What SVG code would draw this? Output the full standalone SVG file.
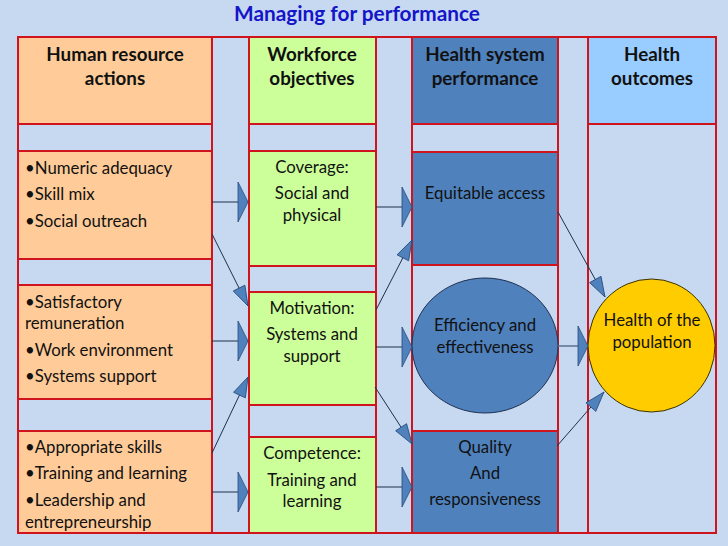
<svg xmlns="http://www.w3.org/2000/svg" width="728" height="546" viewBox="0 0 728 546">
<style>
.col{fill:none;stroke:#D0141E;stroke-width:2}
.box{stroke:#D0141E;stroke-width:2}
.or{fill:#FFCC99}.gr{fill:#CCFF99}.bl{fill:#4F81BD}.lb{fill:#99CCFF}
.t{font-family:Lato,"Liberation Sans",sans-serif;font-size:16.8px;fill:#111}
.h{font-family:Lato,"Liberation Sans",sans-serif;font-size:18.8px;font-weight:bold;fill:#111;text-anchor:middle}
.c{text-anchor:middle}
.ln{stroke:#1E2F4A;stroke-width:1;fill:none}
</style>
<defs>
<marker id="big" viewBox="-11 -21 12 42" markerWidth="12" markerHeight="42" refX="0" refY="0" markerUnits="userSpaceOnUse" orient="auto">
<path d="M0,0 L-10,-20 L-10,20 Z" fill="#4F81BD" stroke="#2A4A78" stroke-width="0.8"/>
</marker>
<marker id="sm" viewBox="-21 -8 22 16" markerWidth="22" markerHeight="16" refX="0" refY="0" markerUnits="userSpaceOnUse" orient="auto">
<path d="M0,0 L-20,-6.5 L-20,6.5 Z" fill="#4F81BD" stroke="#2A4A78" stroke-width="0.8"/>
</marker>
</defs>
<rect x="0" y="0" width="728" height="546" fill="#C6D9F1"/>
<text x="357" y="21" font-family="Lato,'Liberation Sans',sans-serif" font-size="20.8" font-weight="bold" fill="#1414C8" text-anchor="middle">Managing for performance</text>

<g id="columns">
<rect class="col" x="18" y="37" width="194" height="496"/>
<rect class="col" x="212" y="37" width="37" height="496"/>
<rect class="col" x="249" y="37" width="127" height="496"/>
<rect class="col" x="376" y="37" width="36" height="496"/>
<rect class="col" x="412" y="37" width="146" height="496"/>
<rect class="col" x="558" y="37" width="30" height="496"/>
<rect class="col" x="588" y="37" width="128" height="496"/>
</g>

<g id="hdr-hr"><rect class="box or" x="18" y="37" width="194" height="87"/>
<text class="h" x="115" y="61">Human resource</text><text class="h" x="115" y="85">actions</text></g>
<g id="hdr-wf"><rect class="box gr" x="249" y="37" width="127" height="87"/>
<text class="h" x="312" y="61">Workforce</text><text class="h" x="312" y="85">objectives</text></g>
<g id="hdr-hs"><rect class="box bl" x="412" y="37" width="146" height="87"/>
<text class="h" x="485" y="61">Health system</text><text class="h" x="485" y="85">performance</text></g>
<g id="hdr-ho"><rect class="box lb" x="588" y="37" width="128" height="87"/>
<text class="h" x="652" y="61">Health</text><text class="h" x="652" y="85">outcomes</text></g>

<g id="hr1"><rect class="box or" x="18" y="151" width="194" height="108"/>
<text class="t" x="25" y="174">•Numeric adequacy</text>
<text class="t" x="25" y="200">•Skill mix</text>
<text class="t" x="25" y="227">•Social outreach</text></g>
<g id="hr2"><rect class="box or" x="18" y="285" width="194" height="114"/>
<text class="t" x="25" y="308">•Satisfactory</text>
<text class="t" x="25" y="329">remuneration</text>
<text class="t" x="25" y="356">•Work environment</text>
<text class="t" x="25" y="382">•Systems support</text></g>
<g id="hr3"><rect class="box or" x="18" y="431" width="194" height="102"/>
<text class="t" x="25" y="453">•Appropriate skills</text>
<text class="t" x="25" y="479">•Training and learning</text>
<text class="t" x="25" y="506">•Leadership and</text>
<text class="t" x="25" y="528">entrepreneurship</text></g>

<g id="wf1"><rect class="box gr" x="249" y="151" width="127" height="115"/>
<text class="t c" x="312" y="173">Coverage:</text>
<text class="t c" x="312" y="199">Social and</text>
<text class="t c" x="312" y="221">physical</text></g>
<g id="wf2"><rect class="box gr" x="249" y="292" width="127" height="113"/>
<text class="t c" x="312" y="314">Motivation:</text>
<text class="t c" x="312" y="340">Systems and</text>
<text class="t c" x="312" y="362">support</text></g>
<g id="wf3"><rect class="box gr" x="249" y="437" width="127" height="96"/>
<text class="t c" x="312" y="459">Competence:</text>
<text class="t c" x="312" y="486">Training and</text>
<text class="t c" x="312" y="507">learning</text></g>

<g id="hs1"><rect class="box bl" x="412" y="152" width="146" height="113"/>
<text class="t c" x="485" y="199">Equitable access</text></g>
<g id="hs2"><ellipse cx="485" cy="345.5" rx="73" ry="67.5" fill="#4F81BD" stroke="#1F3050" stroke-width="1"/>
<text class="t c" x="485" y="331">Efficiency and</text>
<text class="t c" x="485" y="353">effectiveness</text></g>
<g id="hs3"><rect class="box bl" x="412" y="431" width="146" height="102"/>
<text class="t c" x="485" y="453">Quality</text>
<text class="t c" x="485" y="479">And</text>
<text class="t c" x="485" y="505">responsiveness</text></g>

<g id="ho1"><ellipse cx="651.5" cy="345.5" rx="63.5" ry="66.5" fill="#FFCC00" stroke="#3A3000" stroke-width="1"/>
<text class="t c" x="652" y="326">Health of the</text>
<text class="t c" x="652" y="348">population</text></g>

<g id="connectors">
<line class="ln" x1="212" y1="202" x2="248" y2="202" marker-end="url(#big)"/>
<line class="ln" x1="212" y1="341" x2="248" y2="341" marker-end="url(#big)"/>
<line class="ln" x1="212" y1="492" x2="248" y2="492" marker-end="url(#big)"/>
<line class="ln" x1="376" y1="207" x2="412" y2="207" marker-end="url(#big)"/>
<line class="ln" x1="376" y1="347" x2="412" y2="347" marker-end="url(#big)"/>
<line class="ln" x1="376" y1="487" x2="412" y2="487" marker-end="url(#big)"/>
<line x1="558" y1="346" x2="588" y2="346" stroke="#5A7090" stroke-width="1.5" marker-end="url(#big)"/>
<line class="ln" x1="212" y1="234" x2="248" y2="306" marker-end="url(#sm)"/>
<line class="ln" x1="212" y1="453" x2="248" y2="377" marker-end="url(#sm)"/>
<line class="ln" x1="376" y1="310" x2="412" y2="240" marker-end="url(#sm)"/>
<line class="ln" x1="375" y1="387" x2="412" y2="444" marker-end="url(#sm)"/>
<line class="ln" x1="558" y1="212" x2="605" y2="297" marker-end="url(#sm)"/>
<line class="ln" x1="557" y1="446" x2="604" y2="392" marker-end="url(#sm)"/>
</g>
</svg>
